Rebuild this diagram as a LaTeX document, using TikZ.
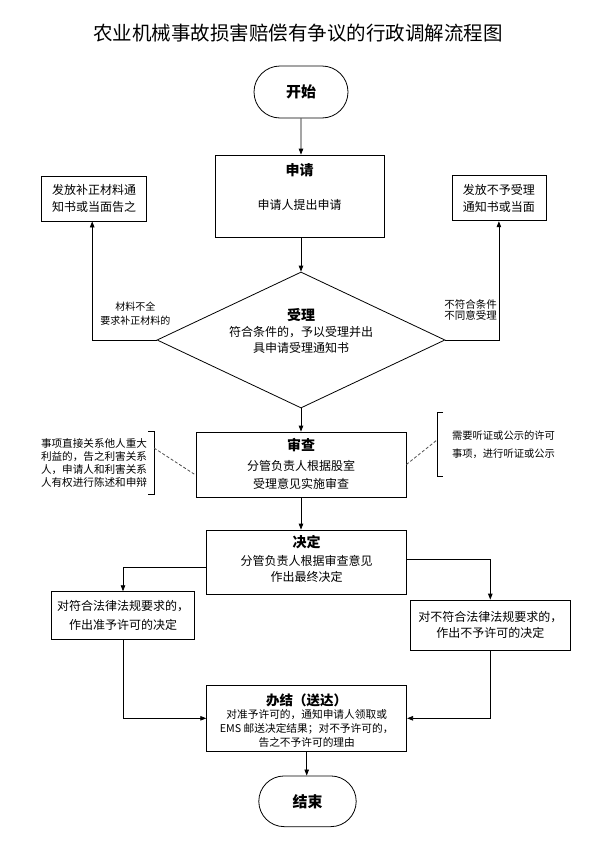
\documentclass[tikz,border=0pt]{standalone}
\usepackage{fontspec}
\setmainfont{Noto Sans CJK SC}
\usetikzlibrary{arrows.meta,shapes.geometric,shapes.misc}
\newcommand{\fs}[2]{\fontsize{#1}{#2}\selectfont}
\tikzset{
  lineobj/.style={draw, line width=0.8pt, inner sep=0pt},
  procbox/.style={lineobj, rectangle, align=center},
  termbox/.style={lineobj, rounded rectangle},
  arr/.style={line width=0.8pt, -{Triangle[length=6pt,width=4.5pt]}},
  dashc/.style={line width=0.8pt, dash pattern=on 3pt off 2pt, black!70},
  txt/.style={inner sep=0pt, align=center},
  brk/.style={line width=0.8pt},
}
\begin{document}
\begin{tikzpicture}[x=1pt,y=-1pt]
\fill[white] (0,0) rectangle (596,846);
\useasboundingbox (0,0) rectangle (596,846);
% title
\node[txt, font=\fs{19.5}{22}] (title) at (298,33) {农业机械事故损害赔偿有争议的行政调解流程图};
% start
\node[termbox, minimum width=94pt, minimum height=52pt, font=\fs{15}{18}\bfseries] (start) at (301,92) {开始};
% apply
\node[procbox, minimum width=169pt, minimum height=82pt] (apply) at (299.5,196) {};
\node[txt, font=\fs{14}{16}\bfseries] (applyH) at (299.5,170) {申请};
\node[txt, font=\fs{12}{14}] (applyB) at (299.5,205) {申请人提出申请};
% accept diamond
\node[lineobj, diamond, minimum width=288pt, minimum height=136pt] (accept) at (301,340) {};
\node[txt, font=\fs{14}{16}\bfseries] (acceptH) at (301,315) {受理};
\node[txt, font=\fs{12}{16.7}] (acceptB) at (301,340) {符合条件的，予以受理并出\\具申请受理通知书};
% side boxes
\node[procbox, minimum width=105pt, minimum height=45pt, font=\fs{12}{17.7}] (supp) at (94.2,198.5) {发放补正材料通\\知书或当面告之};
\node[procbox, minimum width=94pt, minimum height=45pt, font=\fs{12}{17.7}] (reject) at (498.9,198.3) {发放不予受理\\通知书或当面};
\node[txt, font=\fs{10}{13.6}] (lblL) at (135.3,313.5) {材料不全\\要求补正材料的};
\node[txt, font=\fs{10.5}{10.5}, anchor=east] (lblR) at (497,310) {不符合条件\\不同意受理};
% review
\node[procbox, minimum width=210pt, minimum height=65pt] (review) at (301,464.5) {};
\node[txt, font=\fs{14}{16}\bfseries] (reviewH) at (301,445) {审查};
\node[txt, font=\fs{12}{18}] (reviewB) at (301,475) {分管负责人根据股室\\受理意见实施审查};
% notes
\node[txt, font=\fs{10.6}{13.3}, align=left] (noteL) at (94,463) {事项直接关系他人重大\\利益的，告之利害关系\\人，申请人和利害关系\\人有权进行陈述和申辩};
\draw[brk] (148,431) -- (154,431) -- (154,494) -- (148,494);
\coordinate (noteLc) at (154,448);
\node[txt, font=\fs{10.3}{18}, align=left] (noteR) at (503.5,445) {需要听证或公示的许可\\事项，进行听证或公示};
\draw[brk] (443,412) -- (437,412) -- (437,476) -- (443,476);
\coordinate (noteRc) at (437,440);
% decide
\node[procbox, minimum width=200pt, minimum height=64pt] (decide) at (306.7,562) {};
\node[txt, font=\fs{14}{16}\bfseries] (decideH) at (306.7,541.7) {决定};
\node[txt, font=\fs{12}{16.3}] (decideB) at (306.7,569) {分管负责人根据审查意见\\作出最终决定};
\node[procbox, minimum width=142.6pt, minimum height=47.6pt, font=\fs{12}{18.3}] (grant) at (123,615.5) {对符合法律法规要求的，\\作出准予许可的决定};
\node[procbox, minimum width=159.3pt, minimum height=50pt, font=\fs{12}{16.7}] (deny) at (490.3,625) {对不符合法律法规要求的，\\作出不予许可的决定};
% finish
\node[procbox, minimum width=200pt, minimum height=66.7pt] (finish) at (306.7,718.3) {};
\node[txt, font=\fs{13.5}{16}\bfseries] (finishH) at (306.7,700) {办结（送达）};
\node[txt, font=\fs{10.7}{14.3}] (finishB) at (306.7,728.5) {对准予许可的，通知申请人领取或\\EMS 邮送决定结果；对不予许可的，\\告之不予许可的理由};
\node[termbox, minimum width=97.4pt, minimum height=50.7pt, font=\fs{15}{18}\bfseries] (end) at (307.5,801.3) {结束};
% connectors
\draw[arr] (start) -- (apply.north -| start.south);
\draw[arr] (accept.north |- apply.south) -- (accept.north);
\draw[arr] (accept.west) -| ([xshift=-2pt]supp.south);
\draw[arr] (accept.east) -| (reject.south);
\draw[arr] (accept.south) -- (review.north);
\draw[dashc] (noteLc) -- ([yshift=-10.5pt]review.west);
\draw[dashc] (review.east) -- (noteRc);
\draw[arr] (review.south) -- (review.south |- decide.north);
\draw[arr] ([yshift=-5pt]decide.west) -| (grant.north);
\draw[arr] ([yshift=2.7pt]decide.east) -| (deny.north);
\draw[arr] (grant.south) |- (finish.west);
\draw[arr] (deny.south) |- (finish.east);
\draw[arr] (finish.south) -- (finish.south |- end.north);
\end{tikzpicture}
\end{document}
